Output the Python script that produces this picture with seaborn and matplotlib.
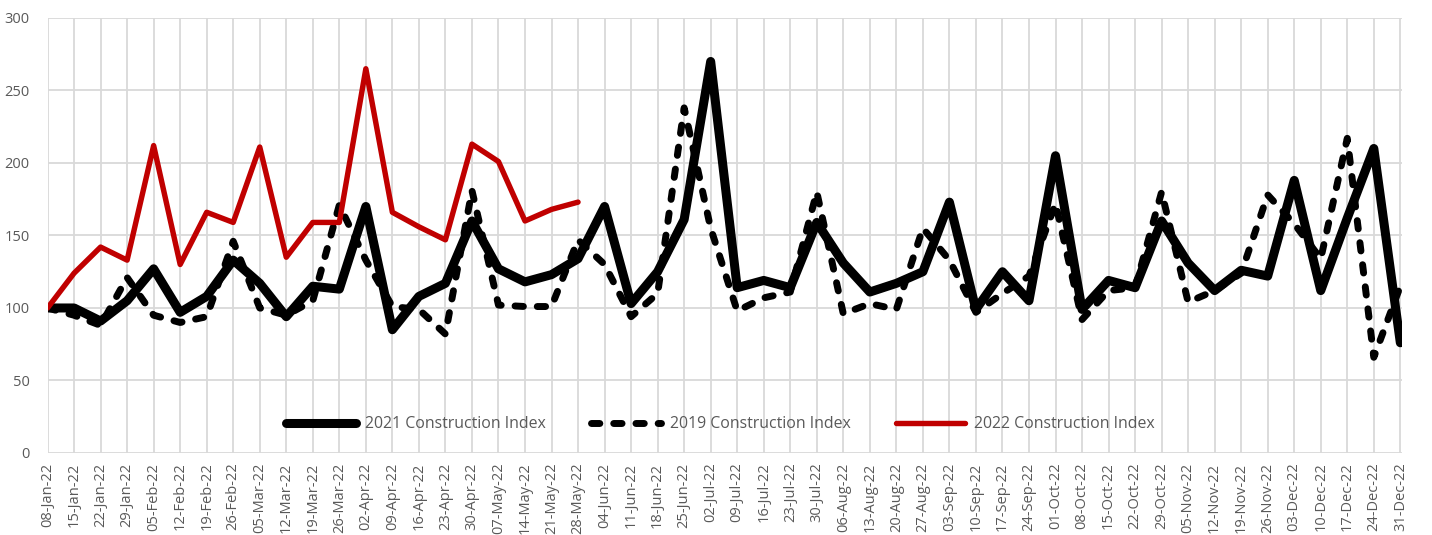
import numpy as np
import pandas as pd
import matplotlib
matplotlib.use("Agg")
import matplotlib.pyplot as plt
import seaborn as sns

# Week-ending dates (labels along the x axis)
weeks = [
    "08-Jan-22", "15-Jan-22", "22-Jan-22", "29-Jan-22", "05-Feb-22", "12-Feb-22",
    "19-Feb-22", "26-Feb-22", "05-Mar-22", "12-Mar-22", "19-Mar-22", "26-Mar-22",
    "02-Apr-22", "09-Apr-22", "16-Apr-22", "23-Apr-22", "30-Apr-22", "07-May-22",
    "14-May-22", "21-May-22", "28-May-22", "04-Jun-22", "11-Jun-22", "18-Jun-22",
    "25-Jun-22", "02-Jul-22", "09-Jul-22", "16-Jul-22", "23-Jul-22", "30-Jul-22",
    "06-Aug-22", "13-Aug-22", "20-Aug-22", "27-Aug-22", "03-Sep-22", "10-Sep-22",
    "17-Sep-22", "24-Sep-22", "01-Oct-22", "08-Oct-22", "15-Oct-22", "22-Oct-22",
    "29-Oct-22", "05-Nov-22", "12-Nov-22", "19-Nov-22", "26-Nov-22", "03-Dec-22",
    "10-Dec-22", "17-Dec-22", "24-Dec-22", "31-Dec-22",
]

index_2021 = [
    100, 100, 91, 105, 127, 97, 108, 133, 117, 94, 115, 113,
    170, 85, 108, 117, 160, 127, 118, 123, 134, 170, 103, 125,
    161, 270, 114, 119, 114, 159, 131, 111, 117, 125, 173, 99,
    125, 105, 205, 99, 119, 114, 160, 131, 112, 126, 122, 188,
    112, 162, 210, 76,
]

index_2019 = [
    100, 95, 88, 121, 95, 90, 94, 146, 100, 95, 105, 171,
    133, 101, 99, 82, 181, 102, 101, 101, 147, 130, 94, 110,
    238, 155, 98, 107, 111, 180, 96, 103, 99, 155, 133, 97,
    110, 122, 172, 92, 112, 114, 180, 104, 112, 124, 178, 158,
    134, 217, 66, 115,
]

index_2022 = [
    100, 124, 142, 133, 212, 130, 166, 159, 211, 135, 159, 159,
    265, 166, 156, 147, 213, 201, 160, 168, 173,
]

series_names = ["2021 Construction Index", "2019 Construction Index", "2022 Construction Index"]

sns.set_theme(style="white")
plt.rcParams["font.family"] = ["Open Sans", "DejaVu Sans"]

text_grey = "#595959"
grid_grey = "#d9d9d9"

fig = plt.figure(figsize=(14.32, 5.35), dpi=100)
ax = fig.add_axes([0.0332, 0.1533, 0.9458, 0.8131])

pos = np.arange(len(weeks))
df21 = pd.DataFrame({"week": pos, "value": index_2021})
df19 = pd.DataFrame({"week": pos, "value": index_2019})
df22 = pd.DataFrame({"week": pos[:len(index_2022)], "value": index_2022})

sns.lineplot(data=df21, x="week", y="value", ax=ax, color="black",
             linewidth=6.5, label=series_names[0], zorder=3)
sns.lineplot(data=df19, x="week", y="value", ax=ax, color="black",
             linewidth=5.0, label=series_names[1], zorder=4)
sns.lineplot(data=df22, x="week", y="value", ax=ax, color="#c00000",
             linewidth=3.9, label=series_names[2], zorder=5)

lines = ax.get_lines()
for ln in lines:
    ln.set_solid_capstyle("round")
    ln.set_solid_joinstyle("round")
lines[1].set_linestyle((0, (1.2, 2.0)))
lines[1].set_dash_capstyle("round")

ax.set_xlim(0, 51.06)
ax.set_ylim(0, 300)
ax.set_yticks(np.arange(0, 301, 50))
ax.set_xticks(pos)
ax.set_xticklabels(weeks, rotation=90, fontsize=10.5, color=text_grey)
ax.tick_params(axis="y", labelsize=10.5, labelcolor=text_grey, length=0, pad=13)
ax.tick_params(axis="x", length=0, pad=7)
ax.set_xlabel("")
ax.set_ylabel("")

ax.grid(True, which="major", axis="both", color=grid_grey, linewidth=1.3, zorder=0)
ax.set_axisbelow(True)
for sp in ax.spines.values():
    sp.set_visible(False)

leg = ax.legend(loc="center", bbox_to_anchor=(0.497, 0.066), ncol=3, frameon=False,
                fontsize=11.4, handlelength=4.4, handletextpad=0.57, columnspacing=2.85)
for t in leg.get_texts():
    t.set_color(text_grey)
for h in leg.legend_handles:
    h.set_solid_capstyle("round")
    h.set_dash_capstyle("round")

fig.savefig("out.png", dpi=100)
